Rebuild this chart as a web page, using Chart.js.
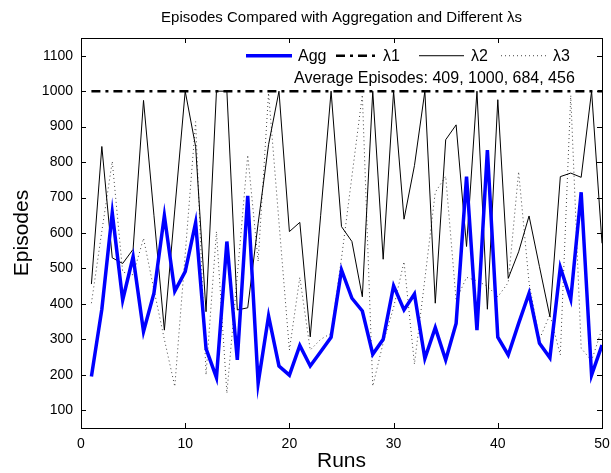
<!DOCTYPE html>
<html>
<head>
<meta charset="utf-8">
<script src="https://cdn.jsdelivr.net/npm/chart.js@4.4.1/dist/chart.umd.min.js"></script>
<style>
  html, body { margin: 0; padding: 0; background: #ffffff; }
  #wrap { width: 611px; height: 473px; }
</style>
</head>
<body>
<div id="wrap"><canvas id="c" width="611" height="473"></canvas></div>
<script>
// ---- data ----
const runs = [1,2,3,4,5,6,7,8,9,10,11,12,13,14,15,16,17,18,19,20,21,22,23,24,25,
              26,27,28,29,30,31,32,33,34,35,36,37,38,39,40,41,42,43,44,45,46,47,48,49,50];
const aggEpisodes = [195,385,657,411,533,322,430,649,436,491,629,274,192,576,242,705,176,366,225,199,
                     283,225,265,306,496,416,380,258,300,451,383,428,246,333,242,345,759,326,834,306,
                     256,345,430,289,248,503,413,715,199,284];
const lambda1Episodes = [1000,1000,1000,1000,1000,1000,1000,1000,1000,1000,1000,1000,1000,1000,1000,
                         1000,1000,1000,1000,1000,1000,1000,1000,1000,1000,1000,1000,1000,1000,1000,
                         1000,1000,1000,1000,1000,1000,1000,1000,1000,1000,1000,1000,1000,1000,1000,
                         1000,1000,1000,1000,1000];
const lambda2Episodes = [456,844,530,514,554,974,650,326,665,1000,844,378,1000,1000,383,389,627,849,1000,604,
                         630,307,650,1000,618,576,420,1000,526,1000,639,790,1000,402,863,905,562,1000,385,976,
                         472,547,648,505,364,759,769,757,1000,571];
const lambda3Episodes = [402,605,802,490,482,585,440,300,167,540,914,200,604,148,480,820,520,995,630,270,
                         475,270,300,317,529,760,990,168,290,390,519,230,470,715,760,410,475,465,450,420,
                         460,773,460,300,370,256,988,275,240,330];
const seriesNames = ['Agg', '\u03bb1', '\u03bb2', '\u03bb3'];
const xTickValues = [0,10,20,30,40,50];
const yTickValues = [100,200,300,400,500,600,700,800,900,1000,1100];
const titleText = 'Episodes Compared with Aggregation and Different \u03bbs';
const xTitle = 'Runs';
const yTitle = 'Episodes';
const averageText = 'Average Episodes: 409, 1000, 684, 456';

const FONT = '"Liberation Sans", Arial, Helvetica, sans-serif';

function pts(vals) { return vals.map((v, i) => ({ x: runs[i], y: v })); }

const styles = [
  { borderColor: '#0000ff', borderWidth: 3.5, borderDash: [] },
  { borderColor: '#000000', borderWidth: 2.5, borderDash: [9, 5, 3, 5] },
  { borderColor: '#000000', borderWidth: 1, borderDash: [] },
  { borderColor: '#444444', borderWidth: 1, borderDash: [1, 3] }
];
const allSeries = [aggEpisodes, lambda1Episodes, lambda2Episodes, lambda3Episodes];

const datasets = allSeries.map((vals, i) => ({
  label: seriesNames[i],
  data: pts(vals),
  borderColor: styles[i].borderColor,
  borderWidth: styles[i].borderWidth,
  borderDash: styles[i].borderDash,
  pointRadius: 0,
  tension: 0,
  fill: false
}));

const boxPlugin = {
  id: 'boxPlugin',
  beforeDraw(chart) {
    const ctx = chart.ctx;
    ctx.save();
    ctx.fillStyle = '#ffffff';
    ctx.fillRect(0, 0, chart.width, chart.height);
    ctx.restore();
  },
  afterDraw(chart) {
    const { ctx, chartArea: a, scales } = chart;
    ctx.save();
    ctx.strokeStyle = '#000';
    ctx.lineWidth = 1;
    ctx.setLineDash([]);
    ctx.strokeRect(Math.round(a.left) + 0.5, Math.round(a.top) + 0.5,
                   Math.round(a.right - a.left), Math.round(a.bottom - a.top));
    const tl = 5;
    ctx.beginPath();
    xTickValues.forEach(v => {
      const x = Math.round(scales.x.getPixelForValue(v)) + 0.5;
      ctx.moveTo(x, a.bottom); ctx.lineTo(x, a.bottom - tl);
      ctx.moveTo(x, a.top); ctx.lineTo(x, a.top + tl);
    });
    yTickValues.forEach(v => {
      const y = Math.round(scales.y.getPixelForValue(v)) + 0.5;
      ctx.moveTo(a.left, y); ctx.lineTo(a.left + tl, y);
      ctx.moveTo(a.right, y); ctx.lineTo(a.right - tl, y);
    });
    ctx.stroke();

    // title centred over the axes
    ctx.fillStyle = '#000';
    ctx.font = '15px ' + FONT;
    ctx.textAlign = 'center';
    ctx.textBaseline = 'middle';
    ctx.fillText(titleText, (a.left + a.right) / 2, 18);

    // legend (inside plot, top right, no frame)
    const ly = scales.y.getPixelForValue(1100);
    const items = [
      { x0: 246, x1: 292, tx: 298 },
      { x0: 336, x1: 378, tx: 383 },
      { x0: 419, x1: 464, tx: 471 },
      { x0: 501, x1: 546, tx: 553 }
    ];
    ctx.font = '16px ' + FONT;
    ctx.textBaseline = 'middle';
    ctx.textAlign = 'left';
    items.forEach((it, i) => {
      const ds = chart.data.datasets[i];
      ctx.beginPath();
      ctx.strokeStyle = ds.borderColor;
      ctx.lineWidth = ds.borderWidth;
      ctx.setLineDash(ds.borderDash || []);
      ctx.moveTo(it.x0, ly); ctx.lineTo(it.x1, ly);
      ctx.stroke();
      ctx.setLineDash([]);
      ctx.fillStyle = '#000';
      ctx.fillText(ds.label, it.tx, ly + 1);
    });
    ctx.fillText(averageText, 294, 79);
    ctx.restore();
  }
};

new Chart(document.getElementById('c'), {
  type: 'line',
  data: { datasets },
  options: {
    responsive: false,
    animation: false,
    devicePixelRatio: 1,
    layout: { padding: { left: 0, right: 9, top: 38, bottom: 0 } },
    plugins: {
      legend: { display: false },
      tooltip: { enabled: false },
      title: { display: false }
    },
    scales: {
      x: {
        type: 'linear',
        min: 0, max: 50,
        afterBuildTicks: s => { s.ticks = xTickValues.map(v => ({ value: v })); },
        afterFit: s => { s.height = 45; s.paddingLeft = 0; s.paddingRight = 0; },
        grid: { display: false, drawTicks: false },
        border: { display: false },
        ticks: { color: '#000', font: { family: FONT, size: 14 }, padding: 8, maxRotation: 0,
                 callback: v => String(v) },
        title: { display: true, text: xTitle, color: '#000',
                 font: { family: FONT, size: 21, lineHeight: 1 }, padding: { top: 0, bottom: 1 } }
      },
      y: {
        type: 'linear',
        min: 50, max: 1150,
        afterBuildTicks: s => { s.ticks = yTickValues.map(v => ({ value: v })); },
        afterFit: s => { s.width = 81; s.paddingTop = 0; s.paddingBottom = 0; },
        grid: { display: false, drawTicks: false },
        border: { display: false },
        ticks: { color: '#000', font: { family: FONT, size: 14 }, padding: 8,
                 callback: v => String(v) },
        title: { display: true, text: yTitle, color: '#000',
                 font: { family: FONT, size: 21, lineHeight: 1 }, padding: { top: 12, bottom: 0 } }
      }
    }
  },
  plugins: [boxPlugin]
});
</script>
</body>
</html>
